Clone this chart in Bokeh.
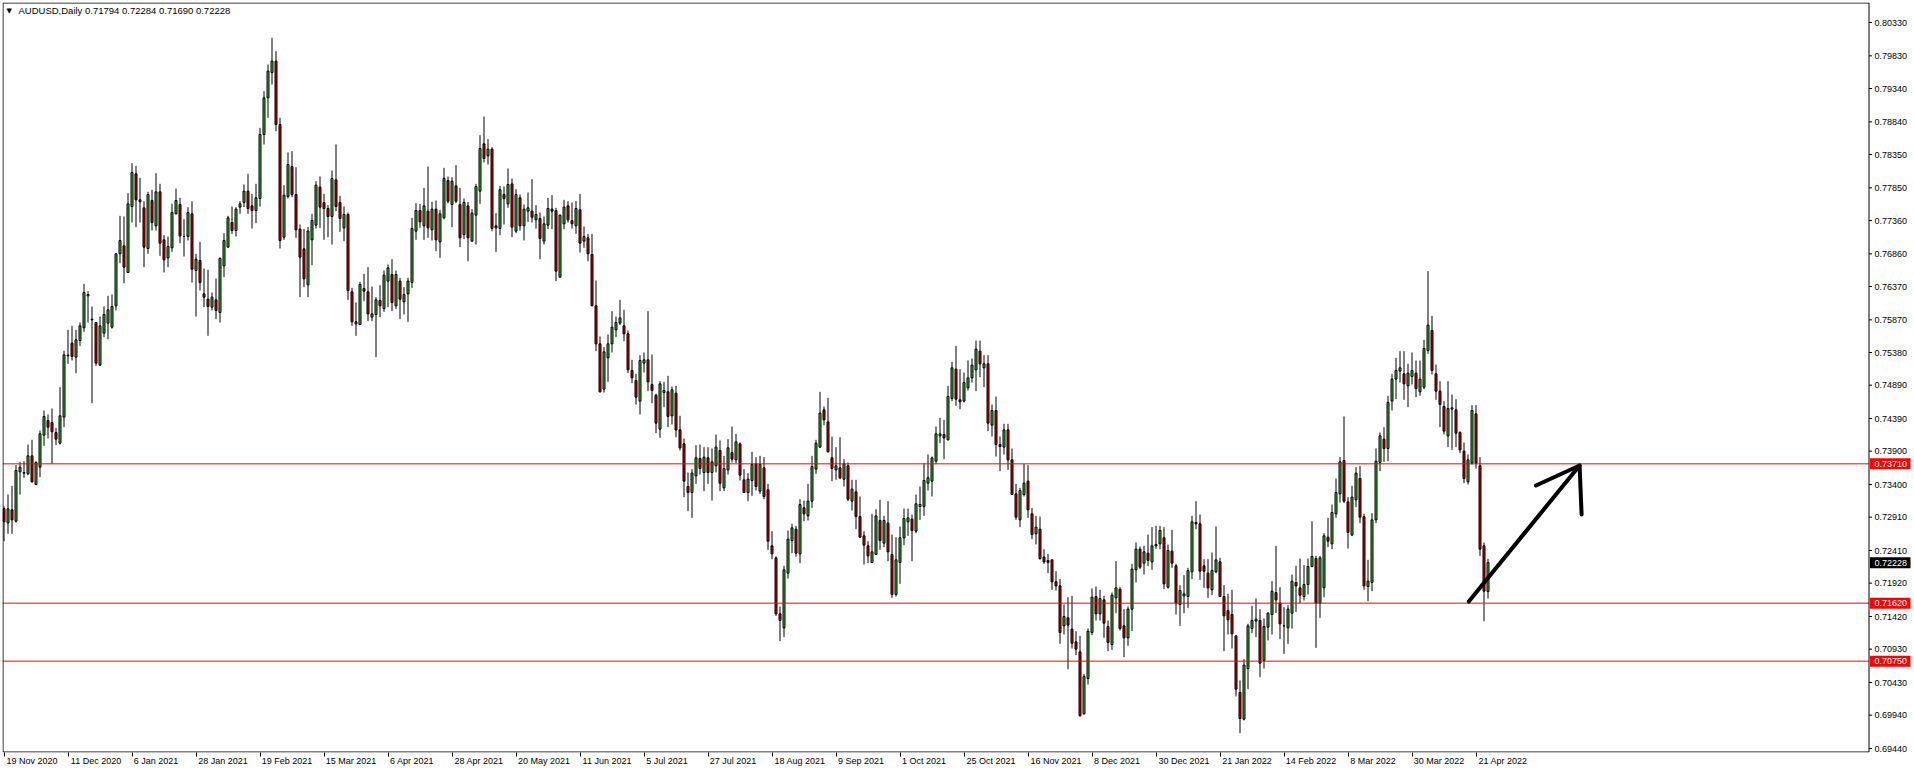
from bokeh.plotting import figure
from bokeh.models import Range1d, FixedTicker, PrintfTickFormatter, Label, LinearAxis
from bokeh.embed import file_html
from bokeh.resources import INLINE
from bokeh.core.properties import value

symbol_header = "AUDUSD,Daily  0.71794 0.72284 0.71690 0.72228"
date_labels = ["19 Nov 2020", "11 Dec 2020", "6 Jan 2021", "28 Jan 2021", "19 Feb 2021",
               "15 Mar 2021", "6 Apr 2021", "28 Apr 2021", "20 May 2021", "11 Jun 2021",
               "5 Jul 2021", "27 Jul 2021", "18 Aug 2021", "9 Sep 2021", "1 Oct 2021",
               "25 Oct 2021", "16 Nov 2021", "8 Dec 2021", "30 Dec 2021", "21 Jan 2022",
               "14 Feb 2022", "8 Mar 2022", "30 Mar 2022", "21 Apr 2022"]
label_every = 16
price_ticks = [0.80330, 0.79830, 0.79340, 0.78840, 0.78350, 0.77850, 0.77360, 0.76860,
               0.76370, 0.75870, 0.75380, 0.74890, 0.74390, 0.73900, 0.73400, 0.72910,
               0.72410, 0.71920, 0.71420, 0.70930, 0.70430, 0.69940, 0.69440]
level_lines = [0.73710, 0.71620, 0.70750]
level_colors = ["#ff0000", "#ff0000", "#ff0000"]
last_price = 0.72228
arrow_xs = [[366.2, 393.9], [383.0, 393.9, 394.4]]
arrow_ys = [[0.71645, 0.73685], [0.73385, 0.73685, 0.72950]]

opens = [
 .7304,.72825,.7302,.7285,.7359,.7358,.7356,.7383,.7340,.7366,
 .7414,.7436,.7433,.7418,.7402,.7441,.7533,.7552,.7531,.7556,
 .7575,.7625,.7588,.7583,.7519,.7567,.7582,.7576,.7608,.7686,
 .7698,.7658,.7757,.7806,.7764,.7755,.7694,.7766,.7728,.7779,
 .7707,.7680,.7695,.7746,.7760,.7712,.7712,.7746,.7661,.7676,
 .7626,.7618,.7606,.7617,.7598,.7668,.7696,.7733,.7721,.7756,
 .7763,.7780,.7758,.7751,.7769,.7865,.7920,.7958,.7975,.7880,
 .7711,.7772,.7817,.7775,.7723,.76935,.76395,.7707,.7729,.7786,
 .7763,.7754,.7742,.7797,.7763,.7725,.7745,.7629,.7584,.7580,
 .7634,.7629,.7591,.7595,.7616,.7604,.7645,.7655,.7608,.7645,
 .7614,.7626,.7643,.7720,.7751,.7728,.7750,.7722,.7753,.7704,
 .7740,.7796,.7760,.7788,.7760,.7715,.7758,.7705,.7744,.7780,
 .7851,.7833,.7843,.7728,.7724,.7775,.7761,.7791,.7720,.7770,
 .7728,.7750,.7750,.7737,.7739,.7705,.7729,.7753,.7751,.7651,
 .7731,.7758,.7736,.7728,.7752,.7705,.7710,.7685,.7608,.7551,
 .7483,.7530,.7551,.7572,.7582,.7578,.7566,.7511,.7496,.7465,
 .7522,.7527,.7490,.7474,.7423,.7478,.7479,.7443,.7477,.7422,
 .7401,.7337,.7328,.7353,.7379,.7358,.7380,.7358,.7368,.7391,
 .7335,.7362,.7388,.7377,.7401,.7347,.7328,.7346,.7371,.7330,
 .7365,.7332,.7248,.7230,.7146,.7125,.7207,.7256,.7273,.7236,
 .7305,.7293,.7315,.7363,.7396,.7452,.7434,.7380,.7362,.7365,
 .7348,.7368,.7315,.7329,.7292,.7263,.7248,.7223,.7235,.7286,
 .7252,.7282,.7235,.7175,.7223,.7260,.7284,.7288,.7270,.7307,
 .7307,.7342,.7345,.7375,.7413,.7415,.7407,.7469,.7513,.7467,
 .7465,.7485,.7500,.7512,.7540,.7515,.7521,.7429,.7451,.7400,
 .7396,.7422,.7377,.7326,.7287,.7325,.7345,.7296,.7266,.7273,
 .7231,.7226,.7227,.7194,.7188,.7128,.7140,.7123,.7104,.7089,
 .6996,.7049,.7118,.7172,.7146,.7167,.7127,.7100,.7170,.7183,
 .7128,.7110,.7153,.7212,.7243,.7222,.7237,.7224,.7248,.7251,
 .7260,.7186,.7240,.7218,.7160,.7173,.7172,.7209,.7281,.7281,
 .7218,.7207,.7182,.7209,.7224,.7172,.7151,.7145,.7113,.7028,
 .6988,.7064,.7124,.7135,.7136,.7076,.7126,.7145,.7178,.7162,
 .7128,.7125,.7147,.7193,.7185,.7172,.7190,.7217,.7229,.7162,
 .7185,.7261,.7251,.7296,.7326,.7376,.7314,.7264,.7317,.7349,
 .7292,.7187,.7193,.7287,.7373,.7408,.7394,.7465,.7498,.7510,
 .7506,.7488,.7502,.7507,.7479,.7486,.7541,.7571,.7506,.7480,
 .7457,.7413,.7453,.7452,.7418,.7390,.7344,.7372,.7446,.7368,
 .7248,.71794]

highs = [
 .7307,.7325,.7338,.7369,.7374,.7375,.7400,.7407,.7375,.7421,
 .7451,.7445,.7454,.7425,.7486,.75405,.7572,.7578,.7572,.7583,
 .7641,.7630,.7607,.7583,.7592,.7607,.7623,.7625,.7687,.7743,
 .7742,.7777,.7822,.7818,.7800,.7765,.7779,.7782,.7807,.7791,
 .7714,.7712,.7761,.7784,.7770,.7738,.7756,.7765,.7686,.7704,
 .7664,.7662,.7628,.7649,.7681,.7717,.7743,.7757,.7756,.7765,
 .7790,.7806,.7776,.7791,.7875,.7930,.7970,.8010,.7990,.7890,
 .7789,.7838,.7840,.7816,.7730,.77235,.7726,.7746,.7795,.7802,
 .7776,.7759,.7811,.7850,.7773,.7757,.7748,.7635,.7613,.7644,
 .7656,.7666,.7637,.7621,.7639,.7661,.7670,.7678,.7661,.7650,
 .7636,.7650,.7740,.7762,.7761,.7785,.7817,.7764,.7766,.7752,
 .7815,.7802,.7801,.7819,.7785,.7769,.7764,.7753,.7791,.7864,
 .7892,.7858,.7846,.7747,.7788,.7787,.7814,.7799,.7783,.7775,
 .7760,.7778,.7798,.7759,.7748,.7742,.7770,.7774,.7755,.7745,
 .7767,.7765,.7763,.7765,.7776,.7727,.7716,.7716,.7646,.7562,
 .7546,.7565,.7600,.7592,.7617,.7602,.7571,.7527,.7506,.7534,
 .7538,.7600,.7535,.7476,.7495,.7494,.7503,.7487,.7488,.7443,
 .7409,.7358,.7363,.7399,.7400,.7396,.7396,.7394,.7415,.7406,
 .7383,.7408,.7427,.7416,.7403,.7363,.7357,.7389,.7381,.7383,
 .7381,.7341,.7270,.7232,.7157,.7218,.7271,.7281,.7278,.7318,
 .7316,.7341,.7383,.7407,.7479,.7457,.7470,.7412,.7396,.7411,
 .7378,.7373,.7347,.7347,.7322,.7270,.7255,.7296,.7303,.7317,
 .7293,.7315,.7265,.7261,.7277,.7304,.7304,.7295,.7325,.7337,
 .7372,.7385,.7382,.7427,.7440,.7437,.7488,.7524,.7548,.7513,
 .7508,.7526,.7529,.7556,.7556,.7534,.7534,.7460,.7472,.7412,
 .7431,.7431,.7394,.7341,.7335,.7371,.7369,.7305,.7293,.7292,
 .7243,.7236,.7227,.7210,.7198,.7160,.7171,.7173,.7120,.7113,
 .7056,.7124,.7184,.7187,.7182,.7173,.7136,.7178,.7225,.7186,
 .7153,.7157,.7221,.7253,.7247,.7248,.7265,.7276,.7278,.7278,
 .7276,.7250,.7272,.7221,.7189,.7204,.7215,.7293,.7315,.7295,
 .7228,.7228,.7238,.7277,.7230,.7189,.7176,.7182,.7113,.7046,
 .7078,.7131,.7158,.7169,.7153,.7139,.7148,.7195,.7248,.7186,
 .7156,.7159,.7205,.7218,.7229,.7219,.7229,.7285,.7233,.7233,
 .7267,.7290,.7310,.7349,.7381,.7442,.7321,.7338,.7366,.7368,
 .7296,.7227,.7297,.7394,.7418,.7426,.7473,.7506,.7530,.7540,
 .7540,.7521,.7538,.7526,.7526,.7557,.7660,.7593,.7520,.7495,
 .7465,.7495,.7475,.7468,.7420,.7403,.7385,.7459,.7459,.7381,
 .7253,.72284]

lows = [
 .7255,.7266,.7266,.7283,.7325,.7350,.7354,.7343,.7340,.7351,
 .7398,.7409,.7371,.7399,.7400,.7426,.7521,.7526,.7507,.7548,
 .7569,.7583,.7462,.7518,.7518,.7561,.7558,.7574,.7601,.7672,
 .7642,.7658,.7733,.7726,.7733,.7666,.7686,.7721,.7721,.7683,
 .7658,.7666,.7689,.7745,.7702,.7682,.7706,.7643,.7592,.7631,
 .7606,.7563,.7601,.7588,.7583,.7651,.7696,.7716,.7712,.7746,
 .7756,.7746,.7724,.7732,.7757,.7850,.7890,.7940,.7870,.7694,
 .7707,.7769,.7771,.7710,.7621,.7636,.7621,.7669,.7724,.7725,
 .7707,.7711,.7700,.7750,.7719,.7705,.7617,.7578,.7563,.7579,
 .7615,.7585,.7585,.7531,.7591,.7599,.7606,.7600,.7603,.7588,
 .7595,.7584,.7635,.7707,.7725,.7707,.7710,.7706,.7690,.7680,
 .7738,.7762,.7726,.7762,.7696,.7708,.7675,.7705,.7700,.7761,
 .7823,.7820,.7720,.7689,.7714,.7730,.7755,.7711,.7717,.7721,
 .7706,.7734,.7733,.7724,.7678,.7700,.7723,.7723,.7645,.7651,
 .7723,.7733,.7724,.7716,.7688,.7695,.7675,.7608,.7540,.7478,
 .7478,.7494,.7538,.7561,.7579,.7555,.7507,.7492,.7460,.7445,
 .7508,.7480,.7462,.7417,.7410,.7456,.7426,.7430,.7411,.7391,
 .7321,.7300,.7290,.7341,.7355,.7330,.7341,.7316,.7358,.7330,
 .7330,.7355,.7373,.7372,.7346,.7327,.7315,.7323,.7331,.7326,
 .7318,.7242,.7228,.7143,.7105,.7111,.7199,.7237,.7232,.7222,
 .7285,.7286,.7305,.7356,.7395,.7429,.7388,.7345,.7347,.7348,
 .7337,.7315,.7301,.7273,.7260,.7220,.7222,.7222,.7235,.7242,
 .7246,.7225,.7170,.7172,.7191,.7249,.7263,.7225,.7267,.7287,
 .7293,.7331,.7322,.7371,.7402,.7378,.7406,.7465,.7458,.7453,
 .7463,.7481,.7493,.7480,.7501,.7486,.7420,.7412,.7382,.7360,
 .7385,.7362,.7325,.7287,.7276,.7322,.7290,.7258,.7250,.7227,
 .7221,.7207,.7182,.7181,.7101,.7115,.7063,.7094,.7084,.6992,
 .6995,.7040,.7114,.7136,.7136,.7110,.7090,.7092,.7147,.7121,
 .7081,.7098,.7120,.7193,.7213,.7205,.7218,.7212,.7243,.7243,
 .7183,.7184,.7215,.7145,.7128,.7147,.7155,.7198,.7273,.7197,
 .7185,.7170,.7174,.7207,.7171,.7090,.7115,.7094,.7022,.6967,
 .6986,.7033,.7117,.7111,.7051,.7064,.7106,.7115,.7147,.7108,
 .7086,.7101,.7124,.7149,.7162,.7166,.7175,.7216,.7095,.7140,
 .7171,.7246,.7243,.7290,.7313,.7312,.7244,.7264,.7306,.7282,
 .7182,.7165,.7180,.7282,.7360,.7374,.7375,.7451,.7468,.7493,
 .7467,.7456,.7490,.7471,.7473,.7483,.7536,.7505,.7467,.7426,
 .7415,.7396,.7392,.7396,.7387,.7342,.7340,.7370,.7364,.7233,
 .7135,.71690]

closes = [
 .7284,.73035,.7287,.7361,.7366,.7357,.7383,.7344,.7373,.7416,
 .7442,.7426,.7419,.7408,.7443,.75345,.7534,.7532,.7557,.7578,
 .7628,.7623,.7587,.7522,.7578,.7595,.7602,.7607,.7686,.7706,
 .7666,.7761,.7808,.7767,.7767,.7696,.7775,.7733,.7779,.7702,
 .7677,.7697,.7748,.7766,.7713,.7712,.7748,.7663,.7678,.7643,
 .7621,.7607,.7621,.7601,.7679,.7706,.7740,.7721,.7753,.7761,
 .7780,.7754,.7751,.7770,.7865,.7920,.7960,.7975,.7880,.7706,
 .7774,.7820,.7775,.7722,.7681,.76485,.7720,.7736,.7789,.7756,
 .7754,.7742,.7799,.7757,.7739,.7745,.7631,.7584,.7581,.7640,
 .7630,.7596,.7596,.7617,.7608,.7654,.7665,.7613,.7655,.7618,
 .7625,.7645,.7724,.7751,.7734,.7758,.7725,.7753,.7707,.7746,
 .7799,.7765,.7795,.7765,.7710,.7763,.7710,.7747,.7787,.7844,
 .7829,.7843,.7724,.7725,.7782,.7769,.7790,.7726,.7775,.7728,
 .7753,.7755,.7741,.7745,.7709,.7731,.7754,.7750,.7660,.7744,
 .7756,.7737,.7731,.7754,.7702,.7712,.7686,.7608,.7551,.7479,
 .7539,.7551,.7576,.7583,.7590,.7566,.7512,.7500,.7471,.7526,
 .7527,.7494,.7481,.7432,.7491,.7481,.7442,.7482,.7422,.7395,
 .7345,.7328,.7357,.7380,.7364,.7381,.7358,.7374,.7396,.7342,
 .7364,.7395,.7378,.7404,.7354,.7328,.7348,.7370,.7337,.7370,
 .7322,.7255,.7236,.7146,.7136,.7212,.7258,.7275,.7237,.7310,
 .7296,.7315,.7367,.7402,.7447,.7437,.7389,.7364,.7368,.7350,
 .7371,.7318,.7333,.7292,.7261,.7249,.7233,.7239,.7293,.7256,
 .7286,.7239,.7175,.7227,.7260,.7289,.7290,.7271,.7311,.7310,
 .7346,.7350,.7380,.7416,.7416,.7410,.7472,.7515,.7468,.7464,
 .7493,.7500,.7519,.7543,.7521,.7521,.7432,.7451,.7400,.7397,
 .7422,.7377,.7325,.7291,.7331,.7342,.7302,.7265,.7276,.7229,
 .7224,.7223,.7194,.7188,.7118,.7142,.7129,.7102,.7093,.6993,
 .7052,.7120,.7171,.7146,.7169,.7132,.7103,.7174,.7185,.7124,
 .7110,.7153,.7213,.7243,.7216,.7239,.7226,.7248,.7250,.7271,
 .7191,.7241,.7222,.7162,.7181,.7176,.7211,.7284,.7283,.7210,
 .7210,.7185,.7211,.7227,.7172,.7143,.7137,.7116,.7033,.6989,
 .7069,.7128,.7136,.7138,.7072,.7127,.7147,.7180,.7167,.7131,
 .7128,.7153,.7195,.7188,.7174,.7190,.7217,.7232,.7162,.7230,
 .7263,.7255,.7298,.7328,.7374,.7315,.7268,.7321,.7357,.7291,
 .7188,.7195,.7287,.7375,.7413,.7394,.7463,.7498,.7511,.7515,
 .7491,.7507,.7511,.7484,.7498,.7544,.7579,.7511,.7480,.7460,
 .7420,.7454,.7455,.7417,.7392,.7349,.7377,.7451,.7372,.7243,
 .7180,.72228]

n = len(opens)
idx = list(range(n))
bull_color = "#3cb83c"
bear_color = "#e00000"
fills = [bull_color if c >= o else bear_color for o, c in zip(opens, closes)]
tops = [max(o, c) for o, c in zip(opens, closes)]
bots = [min(o, c) for o, c in zip(opens, closes)]

# ---------------- layout (pixels) ----------------
W, H = 1912, 770
left_b, top_b, bottom_b, right_b = 2, 2, 18, 2
frame_w = W - left_b - right_b          # frame spans to the page's right edge
frame_h = H - top_b - bottom_b
PXB = 4.0                               # pixels per bar
x0 = -0.375
x1 = x0 + frame_w / PXB
y1 = 0.80630
ypp = 0.00015                           # price per pixel
y0 = y1 - frame_h * ypp
border_px = 1866.5                      # price-scale border, from frame left
x_border = x0 + border_px / PXB
x_pricetext = x0 + 1872 / PXB
x_box = x0 + 1889 / PXB

FONT = "Liberation Sans"
FS = "9px"

p = figure(width=W, height=H, x_range=Range1d(x0, x1), y_range=Range1d(y0, y1),
           output_backend="svg", toolbar_location=None, y_axis_location="right",
           min_border_left=left_b, min_border_right=right_b, min_border_top=top_b,
           min_border_bottom=bottom_b)
p.background_fill_color = "white"
p.border_fill_color = "white"
p.outline_line_color = None
p.xgrid.visible = False
p.ygrid.visible = False

# right price axis: labels drawn just right of the price-scale border
yax = p.yaxis[0]
yax.ticker = FixedTicker(ticks=price_ticks)
yax.formatter = PrintfTickFormatter(format="%.5f")
yax.major_tick_out = 0
yax.major_tick_in = 0
yax.minor_tick_out = 0
yax.minor_tick_in = 0
yax.axis_line_color = None
yax.major_label_standoff = -int(frame_w - 1872)
yax.major_label_text_font = FONT
yax.major_label_text_font_size = FS
yax.major_label_text_color = "black"

# bottom: tick marks at the dates, and a second axis carrying left-aligned-looking labels
date_ticks = [k * label_every for k in range(len(date_labels))]
xax = p.xaxis[0]
xax.ticker = FixedTicker(ticks=date_ticks)
xax.major_label_overrides = {t: "" for t in date_ticks}
xax.major_label_text_font_size = "0px"
xax.major_label_standoff = 0
xax.major_tick_out = 4
xax.major_tick_in = 0
xax.minor_tick_out = 0
xax.minor_tick_in = 0
xax.axis_line_color = None
xax.major_tick_line_color = "black"

CW = {" ": 278, "N": 722, "D": 722, "J": 500, "F": 611, "M": 833, "A": 667, "S": 667,
      "O": 778, "o": 556, "v": 500, "e": 556, "c": 500, "a": 556, "n": 556, "b": 556,
      "r": 333, "p": 556, "y": 500, "u": 556, "l": 222, "g": 556, "t": 278}
def est_width(s, size=9.0):
    return sum(CW.get(ch, 556) for ch in s) * size / 1000.0

label_pos = [round((t + (2 + est_width(s) / 2) / PXB) * 4) / 4 for t, s in zip(date_ticks, date_labels)]
xax2 = LinearAxis(ticker=FixedTicker(ticks=label_pos),
                  major_label_overrides={pos: s for pos, s in zip(label_pos, date_labels)},
                  major_tick_out=0, major_tick_in=0, minor_tick_out=0, minor_tick_in=0,
                  axis_line_color=None, major_label_standoff=-1,
                  major_label_text_font=FONT, major_label_text_font_size=FS,
                  major_label_text_color="black")
p.add_layout(xax2, "below")

# candles
p.segment(x0=idx, y0=lows, x1=idx, y1=highs, line_color="black", line_width=1)
p.vbar(x=idx, top=tops, bottom=bots, width=0.5, fill_color=fills,
       line_color="black", line_width=1)

# horizontal levels (stop at the price scale)
p.segment(x0=[x0] * len(level_lines), x1=[x_border] * len(level_lines),
          y0=level_lines, y1=level_lines, line_color=level_colors, line_width=1)

# arrow
p.multi_line(xs=arrow_xs, ys=arrow_ys, line_color="black", line_width=4,
             line_cap="round", line_join="round")

# chart border (inset half a pixel so it is crisp)
p.quad(left=[x0 + 0.5 / PXB], right=[x_border], bottom=[y0 + 0.5 * ypp], top=[y1 - 0.5 * ypp],
       fill_color=None, line_color="black", line_width=1)

# small tick marks on the price scale
p.ray(x=[x_border] * len(price_ticks), y=price_ticks, length=3, length_units="screen",
      angle=0, line_color="black", line_width=1)

# coloured price boxes on the scale
box_prices = level_lines + [last_price]
box_colors = level_colors + ["black"]
p.rect(x=[x_box] * len(box_prices), y=box_prices, width=43, height=11,
       width_units="screen", height_units="screen", fill_color=box_colors, line_color=None)
p.text(x=[x_pricetext] * len(box_prices), y=box_prices, text=["%.5f" % v for v in box_prices],
       text_font=value(FONT), text_font_size=value(FS), text_color="white",
       text_align="left", text_baseline="middle")

# header
p.add_layout(Label(x=x0, y=y1, x_offset=4, y_offset=-4, text="\u25bc",
                   text_align="left", text_baseline="top",
                   text_font="DejaVu Sans", text_font_size="7px", text_color="black"))
p.add_layout(Label(x=x0, y=y1, x_offset=16, y_offset=-2, text=symbol_header,
                   text_align="left", text_baseline="top",
                   text_font=FONT, text_font_size="9.5px", text_color="black"))

open("out.html", "w").write(file_html(p, INLINE))
